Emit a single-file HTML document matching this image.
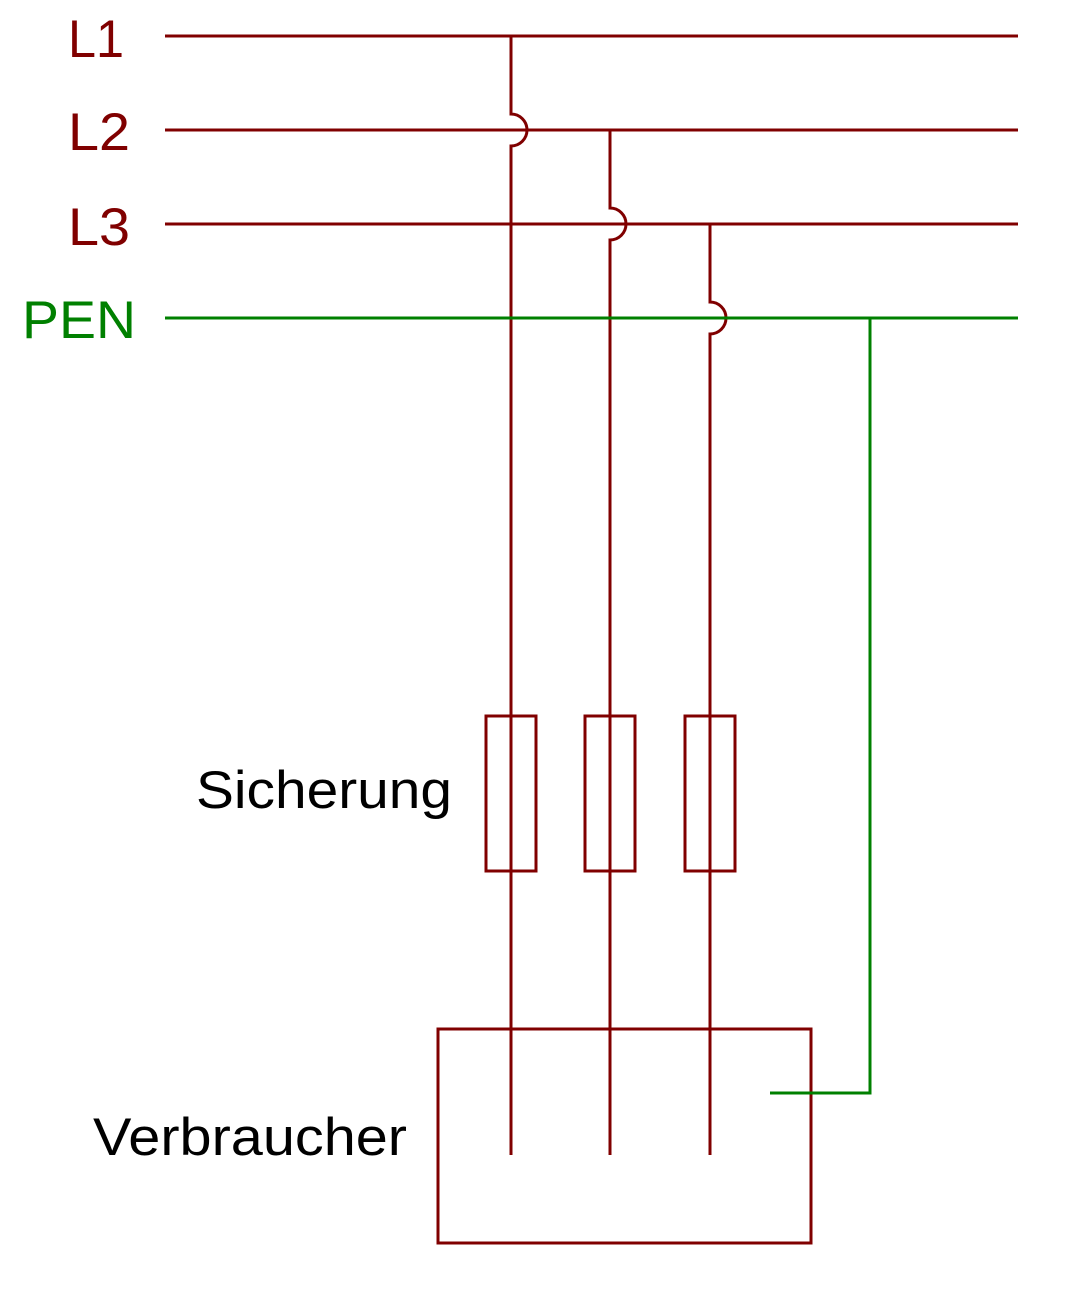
<!DOCTYPE html>
<html><head><style>body{margin:0;background:#fff}svg{display:block}</style></head><body>
<svg width="1080" height="1311" viewBox="0 0 1080 1311" xmlns="http://www.w3.org/2000/svg">
<g font-family="Liberation Sans, sans-serif" font-size="53">
<text x="68" y="57" fill="#800000" textLength="56" lengthAdjust="spacingAndGlyphs">L1</text>
<text x="68" y="150" fill="#800000" textLength="62" lengthAdjust="spacingAndGlyphs">L2</text>
<text x="68" y="245" fill="#800000" textLength="62" lengthAdjust="spacingAndGlyphs">L3</text>
<text x="22" y="338" fill="#008000" textLength="114" lengthAdjust="spacingAndGlyphs">PEN</text>
<text x="196" y="808" fill="#000" textLength="256" lengthAdjust="spacingAndGlyphs">Sicherung</text>
<text x="93" y="1155" fill="#000" textLength="314" lengthAdjust="spacingAndGlyphs">Verbraucher</text>
</g>
<g fill="none" stroke="#800000" stroke-width="3">
<line x1="165" y1="36" x2="1018" y2="36"/>
<line x1="165" y1="130" x2="1018" y2="130"/>
<line x1="165" y1="224" x2="1018" y2="224"/>
<path d="M511 36 V114 A16 16 0 0 1 511 146 V1155"/>
<path d="M610 130 V208 A16 16 0 0 1 610 240 V1155"/>
<path d="M710 224 V302 A16 16 0 0 1 710 334 V1155"/>
<rect x="486" y="716" width="50" height="155"/>
<rect x="585" y="716" width="50" height="155"/>
<rect x="685" y="716" width="50" height="155"/>
<rect x="438" y="1029" width="373" height="214"/>
</g>
<g fill="none" stroke="#008000" stroke-width="3">
<line x1="165" y1="318" x2="1018" y2="318"/>
<path d="M870 318 V1093 H770"/>
</g>
</svg>
</body></html>
